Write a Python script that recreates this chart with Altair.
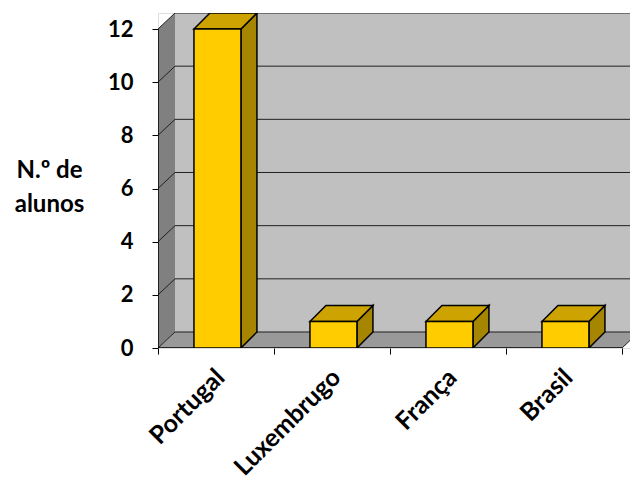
import json
import altair as alt
import pandas as pd

# ---- data ----
categories = ["Portugal", "Luxembrugo", "França", "Brasil"]
values = [12, 1, 1, 1]
y_ticks = [0, 2, 4, 6, 8, 10, 12]
y_title = ["N.º de", "alunos"]

# ---- 3D style constants (in scale units) ----
PX_X = 116.0          # pixels per category
PX_Y = 26.58          # pixels per unit of y
WALL_DX = 17 / PX_X
DEPTH = 16 / PX_Y
BAR_DX = 16 / PX_X
BAR_L, BAR_R = 0.31, 0.715
N = len(categories)
YMAX = max(y_ticks)
PLOT_W = 472
X_DOMAIN = PLOT_W / PX_X
Y_DOMAIN = YMAX + DEPTH
PLOT_H = round(Y_DOMAIN * PX_Y)

FONT = "Lato"
C_FRONT, C_TOP, C_SIDE = "#FFCC00", "#CCA300", "#A68600"
C_BACK, C_LEFT, C_FLOOR = "#C0C0C0", "#808080", "#999999"

# ---- polygon tables (area marks) ----
rows = []
def poly(pid, pts, fill, layer):
    for k, (x, y, y2) in enumerate(pts):
        rows.append(dict(pid=pid, k=k, x=x, y=y, y2=y2, fill=fill, layer=layer))

D = DEPTH
poly("back", [(WALL_DX, YMAX + D, D), (N + WALL_DX, YMAX + D, D)], C_BACK, "wall")
poly("left", [(0, YMAX, 0), (WALL_DX, YMAX + D, D)], C_LEFT, "wall")
poly("floor", [(0, 0, 0), (WALL_DX, D, 0), (N, D, 0), (N + WALL_DX, D, D)], C_FLOOR, "wall")

fronts = []
for i, (c, v) in enumerate(zip(categories, values)):
    x0, x1 = i + BAR_L, i + BAR_R
    poly(f"side{i}", [(x1, v, 0), (x1 + BAR_DX, v + D, D)], C_SIDE, "bar")
    poly(f"top{i}", [(x0, v, v), (x0 + BAR_DX, v + D, v), (x1, v + D, v),
                     (x1 + BAR_DX, v + D, v + D)], C_TOP, "bar")
    fronts.append(dict(x=x0, x2=x1, y=0, y2=v))
polys = pd.DataFrame(rows)

# grid / edge lines
lines = []
for t in y_ticks:
    lines.append(dict(x=WALL_DX, x2=N + WALL_DX, y=t + D, y2=t + D, c="#202020"))
    lines.append(dict(x=0, x2=WALL_DX, y=t, y2=t + D, c="#202020"))
lines.append(dict(x=N, x2=N + WALL_DX, y=0, y2=D, c="#202020"))
front_lines = [dict(x=0, x2=N, y=0, y2=0, c="#000000"),
               dict(x=0, x2=0, y=0, y2=YMAX, c="#000000")]

label_expr = "datum.value < %d ? %s[datum.value] : ''" % (N, json.dumps(categories, ensure_ascii=False))

XS = alt.Scale(domain=[0, X_DOMAIN], nice=False, zero=False)
YS = alt.Scale(domain=[0, Y_DOMAIN], nice=False, zero=False)
XA = alt.Axis(values=list(range(N + 1)), labelExpr=label_expr, title=None,
              grid=False, domain=False, ticks=True, tickSize=6, tickColor="#000",
              labelAngle=-45, labelAlign="right", labelBaseline="middle",
              labelOffset=PX_X / 2 + 4, labelPadding=19, labelFont=FONT,
              labelFontSize=25, labelFontWeight="bold", labelColor="#000",
              labelOverlap=False, labelBound=False, labelFlush=False)
YA = alt.Axis(values=y_ticks, title=y_title, grid=False, domain=False,
              tickSize=6, tickColor="#000", labelPadding=19, labelFont=FONT,
              labelFontSize=22, labelFontWeight="bold", labelColor="#000",
              titleAngle=0, titleFont=FONT, titleFontSize=24, titleFontWeight="bold",
              titleColor="#000", titleAlign="center", titleBaseline="alphabetic",
              titleX=-109, titleY=164, titleLineHeight=34)

def X():
    return alt.X("x:Q", scale=XS, axis=XA)

def Y():
    return alt.Y("y:Q", scale=YS, axis=YA, stack=None)

def area_chart(df, **mark):
    return alt.Chart(df).mark_area(orient="vertical", clip=True, interpolate="linear",
                                   fillOpacity=1, **mark).encode(
        x=X(), y=Y(), y2="y2:Q", detail="pid:N",
        fill=alt.Fill("fill:N", scale=None))

walls = area_chart(polys[polys.layer == "wall"], strokeWidth=0)

grid = alt.Chart(pd.DataFrame(lines)).mark_rule(strokeWidth=1, clip=True).encode(
    x=X(), x2="x2:Q", y=Y(), y2="y2:Q", color=alt.Color("c:N", scale=None))
front_axes = alt.Chart(pd.DataFrame(front_lines)).mark_rule(strokeWidth=1.5, clip=True).encode(
    x=X(), x2="x2:Q", y=Y(), y2="y2:Q", color=alt.Color("c:N", scale=None))

bars3d = area_chart(polys[polys.layer == "bar"], stroke="#000", strokeWidth=1.5, strokeJoin="miter")

front = alt.Chart(pd.DataFrame(fronts)).mark_rect(
    fill=C_FRONT, stroke="#000", strokeWidth=1.5, clip=True
).encode(x=X(), x2="x2:Q", y=Y(), y2="y2:Q")

chart = alt.layer(walls, grid, front_axes, bars3d, front).properties(
    width=PLOT_W, height=PLOT_H, autosize="none",
    padding={"left": 158, "top": 13, "right": 0, "bottom": 477 - 13 - PLOT_H},
).configure_view(stroke=None).configure(background="white")

chart.save("out.html", embed_options={"renderer": "svg", "actions": False})
